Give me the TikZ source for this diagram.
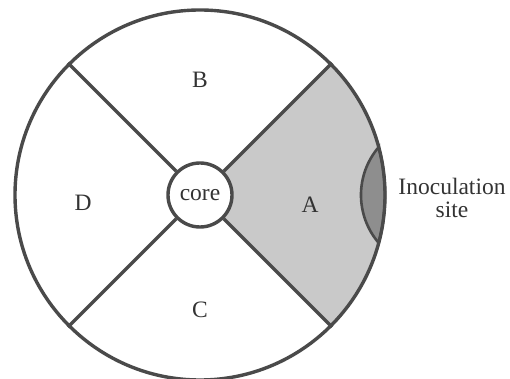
\documentclass[tikz,border=0pt]{standalone}
\usepackage{fontspec}
\setmainfont{Liberation Serif}
\usepackage{xcolor}
\usepackage{tikz}
\definecolor{rim}{HTML}{4A4A4A}
\definecolor{sectA}{HTML}{C9C9C9}
\definecolor{inoc}{HTML}{8E8E8E}
\definecolor{ink}{HTML}{333333}

\begin{document}
\begin{tikzpicture}[x=1pt,y=1pt,line width=3.4pt,
  lab/.style={text=ink,font=\fontsize{23.5}{22.5}\selectfont}]
\useasboundingbox (-200,-184) rectangle (310,195);
\fill[sectA] (-45:32) -- (-45:185) arc[start angle=-45,end angle=45,radius=185]
  -- (45:32) arc[start angle=45,end angle=-45,radius=32] -- cycle;
\filldraw[inoc,draw=rim,line width=2.6pt] (15:185) arc[start angle=139.4,end angle=220.6,radius=73.6]
  arc[start angle=-15,end angle=15,radius=185] -- cycle;
\node[circle,draw=rim,inner sep=0pt,minimum size=370pt] (disc) at (0,0) {};
\node[circle,draw=rim,fill=white,inner sep=0pt,minimum size=64pt,lab] (core) at (0,0) {core};
\foreach \a in {45,135,225,315}
  \draw[rim] (core.\a) -- (disc.\a);
\node[lab] (secA) at (110,-10) {A};
\node[lab] (secB) at (0,115) {B};
\node[lab] (secC) at (0,-115) {C};
\node[lab] (secD) at (-117,-8) {D};
\node[lab,align=center,inner sep=0pt] (site) at (252,-3) {Inoculation\\site};
\end{tikzpicture}
\end{document}
